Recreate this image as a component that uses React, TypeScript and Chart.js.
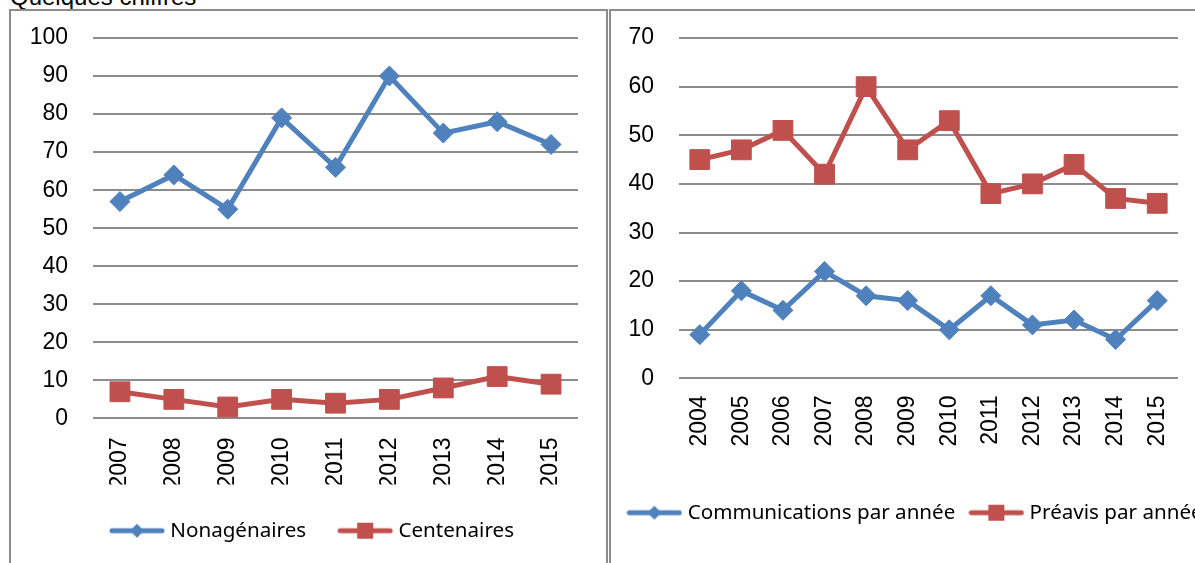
import React, { useEffect, useRef } from 'react';
import { Chart, registerables } from 'chart.js';

Chart.register(...registerables);

// ---- data ----
const leftYears = ['2007', '2008', '2009', '2010', '2011', '2012', '2013', '2014', '2015'];
const nonagenaires = [57, 64, 55, 79, 66, 90, 75, 78, 72];
const centenaires = [7, 5, 3, 5, 4, 5, 8, 11, 9];
const leftYMax = 100;

const rightYears = ['2004', '2005', '2006', '2007', '2008', '2009', '2010', '2011', '2012', '2013', '2014', '2015'];
const communications = [9, 18, 14, 22, 17, 16, 10, 17, 11, 12, 8, 16];
const preavis = [45, 47, 51, 42, 60, 47, 53, 38, 40, 44, 37, 36];
const rightYMax = 70;
const yStep = 10;

const BLUE = '#4F81BD';
const RED = '#C0504D';
const GRID = '#8C8C8C';
const TICK_FONT = { family: '"Liberation Sans", Arial, sans-serif', size: 23 };
const LEGEND_FONT = { family: '"Noto Sans", sans-serif', size: 20.6 };

function legendImage(color: string, style: 'diamond' | 'square'): HTMLCanvasElement {
  const c = document.createElement('canvas');
  c.width = 56;
  c.height = 20;
  const ctx = c.getContext('2d')!;
  ctx.strokeStyle = color;
  ctx.lineWidth = 5;
  ctx.lineCap = 'round';
  ctx.beginPath();
  ctx.moveTo(3, 10);
  ctx.lineTo(53, 10);
  ctx.stroke();
  ctx.fillStyle = color;
  ctx.beginPath();
  if (style === 'diamond') {
    ctx.moveTo(21, 10);
    ctx.lineTo(28, 3);
    ctx.lineTo(35, 10);
    ctx.lineTo(28, 17);
    ctx.closePath();
  } else {
    ctx.rect(20, 2, 16, 16);
  }
  ctx.fill();
  return c;
}

function makeConfig(
  labels: string[],
  series: { label: string; data: number[]; color: string; style: 'diamond' | 'square' }[],
  yMax: number,
  yAxisWidth: number,
  rightPad: number,
  xAxisHeight: number,
  xTickPad: number,
  legendPad: number,
  bottomPad: number
): any {
  const imgs = series.map((s) => legendImage(s.color, s.style));
  return {
    type: 'line',
    data: {
      labels,
      datasets: series.map((s) => ({
        label: s.label,
        data: s.data,
        borderColor: s.color,
        backgroundColor: s.color,
        borderWidth: 5,
        tension: 0,
        pointStyle: s.style === 'diamond' ? 'rectRot' : 'rect',
        pointRadius: s.style === 'diamond' ? 10 : 14,
        pointBorderWidth: 1,
        pointBorderColor: s.color,
        pointBackgroundColor: s.color,
        clip: false,
      })),
    },
    options: {
      responsive: false,
      animation: false,
      layout: { autoPadding: false, padding: { top: 28, left: 0, right: 0, bottom: bottomPad } },
      plugins: {
        title: { display: false },
        tooltip: { enabled: false },
        legend: {
          display: true,
          position: 'bottom',
          labels: {
            font: LEGEND_FONT,
            color: '#000',
            usePointStyle: true,
            pointStyleWidth: 46,
            padding: legendPad,
            generateLabels: (chart: any) =>
              chart.data.datasets.map((ds: any, i: number) => ({
                text: ds.label,
                pointStyle: imgs[i],
                fillStyle: ds.borderColor,
                strokeStyle: ds.borderColor,
                lineWidth: 0,
                hidden: false,
                datasetIndex: i,
                fontColor: '#000',
              })),
          },
        },
      },
      scales: {
        x: {
          offset: true,
          grid: { display: false, drawTicks: false },
          border: { display: false },
          ticks: {
            font: TICK_FONT,
            color: '#000',
            maxRotation: 90,
            minRotation: 90,
            autoSkip: false,
            padding: xTickPad,
          },
          afterFit: (s: any) => {
            s.height = xAxisHeight;
          },
        },
        y: {
          min: 0,
          max: yMax,
          ticks: { stepSize: yStep, padding: 0, font: TICK_FONT, color: '#000' },
          grid: {
            color: GRID,
            lineWidth: 2,
            drawTicks: true,
            tickLength: 25,
            tickColor: 'rgba(0,0,0,0)',
          },
          border: { display: false },
          afterFit: (s: any) => {
            s.width = yAxisWidth;
          },
        },
        pad: {
          type: 'linear',
          position: 'right',
          display: true,
          grid: { display: false, drawTicks: false },
          border: { display: false },
          ticks: { display: false },
          afterFit: (s: any) => {
            s.width = rightPad;
          },
        },
      },
    },
  };
}

function ChartCanvas({ config, width, height }: { config: any; width: number; height: number }) {
  const ref = useRef<HTMLCanvasElement>(null);
  useEffect(() => {
    if (!ref.current) return;
    const chart = new Chart(ref.current, config);
    return () => chart.destroy();
  }, []);
  return <canvas ref={ref} width={width} height={height} style={{ display: 'block', width, height }} />;
}

export default function App() {
  const leftConfig = makeConfig(
    leftYears,
    [
      { label: 'Nonagénaires', data: nonagenaires, color: BLUE, style: 'diamond' },
      { label: 'Centenaires', data: centenaires, color: RED, style: 'square' },
    ],
    leftYMax,
    82,
    39,
    66,
    19,
    36,
    12
  );
  const rightConfig = makeConfig(
    rightYears,
    [
      { label: 'Communications par année', data: communications, color: BLUE, style: 'diamond' },
      { label: 'Préavis par année', data: preavis, color: RED, style: 'square' },
    ],
    rightYMax,
    72,
    49,
    106,
    17,
    18,
    30
  );
  return (
    <div
      style={{
        position: 'fixed',
        left: 0,
        top: 0,
        width: 1195,
        height: 563,
        overflow: 'hidden',
        background: '#fff',
      }}
    >
      <div
        style={{
          position: 'absolute',
          left: 10,
          top: -15,
          font: '24px/24px "Liberation Sans", Arial, sans-serif',
          color: '#000',
          whiteSpace: 'nowrap',
        }}
      >
        Quelques chiffres
      </div>
      <div
        style={{
          position: 'absolute',
          left: 609,
          top: 9,
          width: 700,
          height: 600,
          border: '2px solid #8C8C8C',
        }}
      />
      <div style={{ position: 'absolute', left: 607, top: 10 }}>
        <ChartCanvas config={rightConfig} width={620} height={553} />
      </div>
      <div style={{ position: 'absolute', left: 11, top: 10, width: 595, height: 553, overflow: 'hidden' }}>
        <ChartCanvas config={leftConfig} width={606} height={553} />
      </div>
      <div
        style={{
          position: 'absolute',
          left: 9,
          top: 9,
          width: 595,
          height: 600,
          border: '2px solid #8C8C8C',
        }}
      />
    </div>
  );
}
